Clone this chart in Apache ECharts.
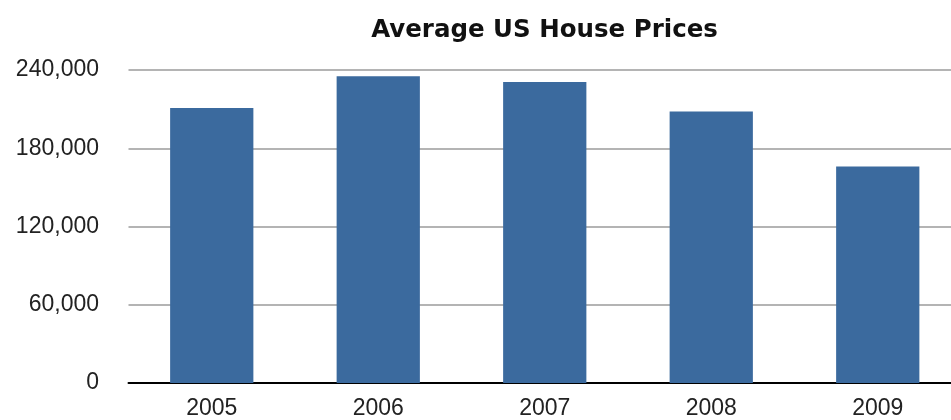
<!DOCTYPE html>
<html>
<head>
<meta charset="utf-8">
<script src="https://cdn.jsdelivr.net/npm/echarts@6/dist/echarts.min.js"></script>
<style>html,body{margin:0;padding:0;background:#fff;overflow:hidden;width:951px;height:420px}#c{width:961px;height:420px}</style>
</head>
<body>
<div id="c"></div>
<script>
const categories = ['2005', '2006', '2007', '2008', '2009'];
const prices = [210800, 235300, 230800, 208100, 166100];
const yTicks = [0, 60000, 120000, 180000, 240000];

const chart = echarts.init(document.getElementById('c'), null, {renderer: 'canvas'});
chart.setOption({
  animation: false,
  title: {
    text: 'Average US House Prices',
    left: 539.5, top: 13, textAlign: 'center',
    textStyle: {fontFamily: 'DejaVu Sans, sans-serif', fontSize: 24.5, fontWeight: 'bold', color: '#111'}
  },
  grid: {left: 128.5, right: 0, top: 70, bottom: 36, containLabel: false},
  xAxis: {
    type: 'category', data: categories,
    axisLine: {show: true, lineStyle: {color: '#000', width: 2}},
    axisTick: {show: false},
    axisLabel: {fontFamily: 'Liberation Sans, Arial, sans-serif', fontSize: 23, color: '#222', margin: 14}
  },
  yAxis: {
    type: 'value', min: yTicks[0], max: yTicks[yTicks.length - 1], interval: 60000,
    axisLine: {show: false}, axisTick: {show: false},
    splitLine: {lineStyle: {color: '#b4b4b4', width: 2}},
    axisLabel: {
      fontFamily: 'Liberation Sans, Arial, sans-serif', fontSize: 23, color: '#222', margin: 29.5,
      formatter: v => v.toLocaleString('en-US')
    }
  },
  series: [{
    type: 'bar', data: prices, barWidth: '50%',
    itemStyle: {color: '#3b6a9e'}
  }]
});
</script>
</body>
</html>
